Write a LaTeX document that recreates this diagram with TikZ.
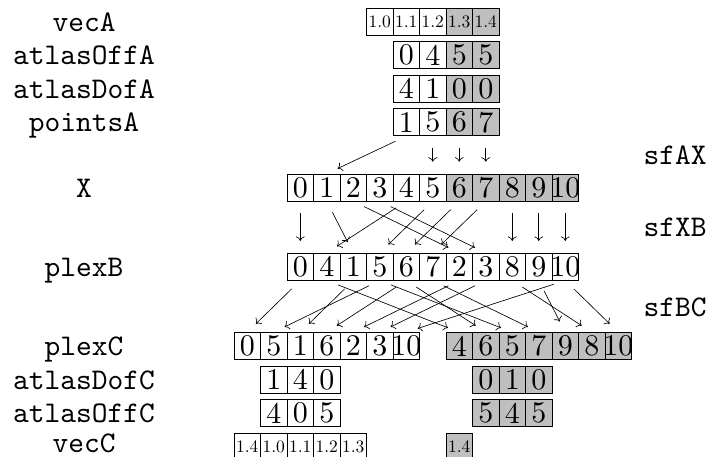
\documentclass[tikz,border=0pt]{standalone}
\usetikzlibrary{arrows.meta}
\font\cellfontraw="[lmroman10-regular.otf]" at 30pt
\font\vecfontraw="[lmroman10-regular.otf]" at 17.5pt
\font\labfontraw="[lmmono10-regular.otf]" at 30pt
\newcommand\cellfont{\cellfontraw}
\newcommand\vecfont{\vecfontraw}
\newcommand\labfont{\labfontraw}
\tikzset{
  cell/.style={draw, line width=0.6pt, minimum width=26.5pt, minimum height=27pt, inner sep=0pt, font=\cellfont},
  vcell/.style={cell, font=\vecfont},
  shaded/.style={fill=lightgray},
  lab/.style={font=\labfont, anchor=base, inner sep=0pt},
  rlab/.style={font=\labfont, inner sep=0pt},
  arr/.style={-{To[length=4.5pt,width=9pt]}, line width=0.65pt, shorten <=12pt, shorten >=12pt},
}
% name, first global index, y centre, style, list, first shaded (relative index)
\newcommand\cellrow[6]{%
  \foreach \v [count=\k from 0] in {#5} {
    \pgfmathsetmacro\cx{300.25+26.5*(#2+\k)}
    \ifnum\k<#6\relax
      \node[#4] (#1\k) at (\cx,#3) {\makebox[0pt]{\v}};
    \else
      \node[#4,shaded] (#1\k) at (\cx,#3) {\makebox[0pt]{\v}};
    \fi
  }}
\begin{document}
\begin{tikzpicture}[x=1pt,y=-1pt]
\useasboundingbox (0,0) rectangle (710,457);
% rows
\cellrow{vA}{3}{21.5}{vcell}{1.0,1.1,1.2,1.3,1.4}{3}
\cellrow{oA}{4}{55.1}{cell}{0,4,5,5}{2}
\cellrow{dA}{4}{88.7}{cell}{4,1,0,0}{2}
\cellrow{pA}{4}{122.3}{cell}{1,5,6,7}{2}
\cellrow{X}{0}{187.5}{cell}{0,1,2,3,4,5,6,7,8,9,10}{6}
\cellrow{B}{0}{266.7}{cell}{0,4,1,5,6,7,2,3,8,9,10}{99}
\cellrow{CL}{-2}{346}{cell}{0,5,1,6,2,3,10}{99}
\cellrow{CR}{6}{346}{cell}{4,6,5,7,9,8,10}{0}
\cellrow{dCL}{-1}{379.6}{cell}{1,4,0}{99}
\cellrow{dCR}{7}{379.6}{cell}{0,1,0}{0}
\cellrow{oCL}{-1}{413.2}{cell}{4,0,5}{99}
\cellrow{oCR}{7}{413.2}{cell}{5,4,5}{0}
\cellrow{vCL}{-2}{446.8}{vcell}{1.4,1.0,1.1,1.2,1.3}{99}
\cellrow{vCR}{6}{446.8}{vcell}{1.4}{0}
% left labels
\node[lab] (lvA) at (84,31.1) {vecA};
\node[lab] (loA) at (84,64.7) {atlasOffA};
\node[lab] (ldA) at (84,98.3) {atlasDofA};
\node[lab] (lpA) at (84,131.9) {pointsA};
\node[lab] (lX) at (84,197.1) {X};
\node[lab] (lB) at (84,276.3) {plexB};
\node[lab] (lC) at (84,355.6) {plexC};
\node[lab] (ldC) at (84,389.2) {atlasDofC};
\node[lab] (loC) at (84,422.8) {atlasOffC};
\node[lab] (lvC) at (84,452) {vecC};
% right labels
\node[rlab] (sfAX) at (675,155) {sfAX};
\node[rlab] (sfXB) at (675,227) {sfXB};
\node[rlab] (sfBC) at (675,307) {sfBC};
% A -> X
\foreach \a/\b in {0/1,1/5,2/6,3/7}
  \draw[arr] (pA\a.south) -- (X\b.north);
% X -> B
\foreach \a/\b in {0/0,1/2,2/6,3/7,4/1,5/3,6/4,7/5,8/8,9/9,10/10}
  \draw[arr] (X\a.south) -- (B\b.north);
% B -> C
\foreach \a/\b in {0/CL0,1/CR0,2/CL2,3/CL1,3/CR2,4/CL3,4/CR1,5/CR3,6/CL4,7/CL5,8/CR5,9/CR4,10/CL6,10/CR6}
  \draw[arr] (B\a.south) -- (\b.north);
\end{tikzpicture}
\end{document}
